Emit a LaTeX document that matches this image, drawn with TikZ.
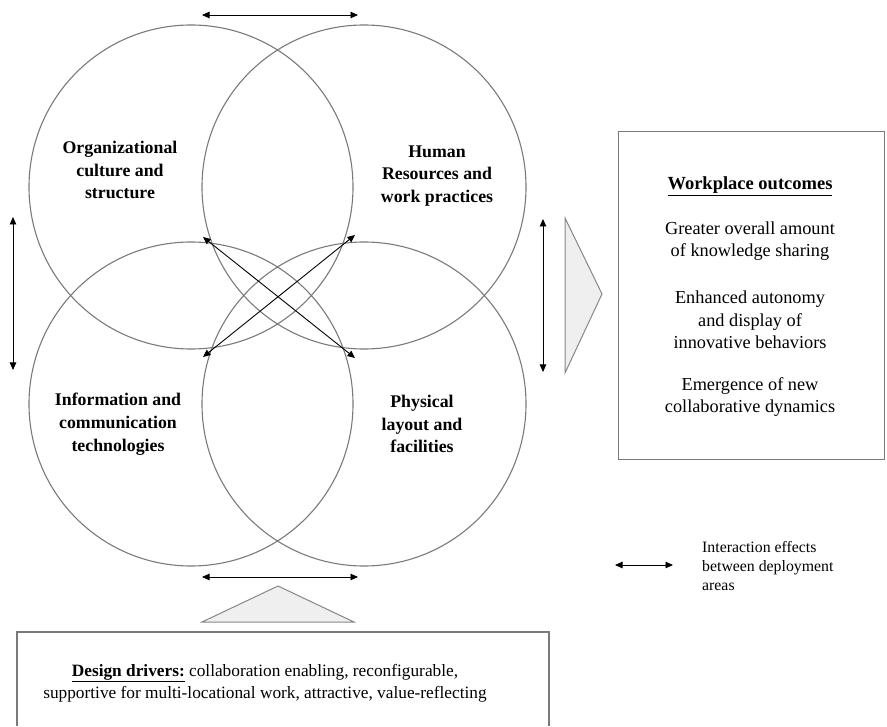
\documentclass[tikz,border=0pt]{standalone}
\usepackage{fontspec}
\setmainfont{Liberation Serif}
\usetikzlibrary{arrows.meta}
\definecolor{cgray}{HTML}{7A7A7A}
\definecolor{tfill}{HTML}{EFEFEF}
\tikzset{
  venn/.style={draw=cgray, line width=1.1pt, circle, minimum size=324pt, inner sep=0pt},
  lbl/.style={align=center, font=\fontsize{17.8}{22.8}\selectfont\bfseries},
  otxt/.style={align=center, font=\fontsize{18.3}{22.5}\selectfont},
  inter/.style={{Triangle[length=7.5pt,width=6.5pt]}-{Triangle[length=7.5pt,width=6.5pt]}, line width=0.9pt, black},
  tri/.style={draw=cgray!90, fill=tfill, line width=1pt},
  boxx/.style={draw=cgray, line width=1.1pt}
}
\begin{document}
\begin{tikzpicture}[x=1pt,y=-1pt]
\useasboundingbox (0,0) rectangle (887,727);
% circles
\node[venn] (c1) at (191,187) {};
\node[venn] (c2) at (364,187) {};
\node[venn] (c3) at (191,404) {};
\node[venn] (c4) at (364,404) {};
% labels
\node[lbl] (l1) at (120,170) {Organizational\\culture and\\structure};
\node[lbl] (l2) at (437,176) {Human\\Resources and\\work practices};
\node[lbl] (l3) at (118,424) {Information and\\communication\\technologies};
\node[lbl] (l4) at (422,424) {Physical\\layout and\\facilities};
% interaction arrow endpoints
\coordinate (t1) at (202,15); \coordinate (t2) at (358,15);
\coordinate (b1) at (202,577); \coordinate (b2) at (358,577);
\coordinate (v1) at (13,217); \coordinate (v2) at (13,370);
\coordinate (r1) at (543,219); \coordinate (r2) at (543,372);
\coordinate (d1) at (203,237); \coordinate (d2) at (355,358);
\coordinate (e1) at (355,235); \coordinate (e2) at (203,357);
\draw[inter] (t1) -- (t2);
\draw[inter] (b1) -- (b2);
\draw[inter] (v1) -- (v2);
\draw[inter] (r1) -- (r2);
\draw[inter] (d1) -- (d2);
\draw[inter] (e1) -- (e2);
% right triangle
\coordinate (rt1) at (565,218); \coordinate (rt2) at (602,294); \coordinate (rt3) at (565,373);
\draw[tri] (rt1) -- (rt2) -- (rt3) -- cycle;
% bottom triangle
\coordinate (bt1) at (202,622); \coordinate (bt2) at (278,586); \coordinate (bt3) at (354,622);
\draw[tri] (bt1) -- (bt2) -- (bt3) -- cycle;
% right box
\node[boxx, minimum width=266pt, minimum height=328pt, inner sep=0pt] (ob) at (751.5,295.5) {};
\node[otxt, font=\fontsize{18.5}{22.5}\selectfont\bfseries] (oh) at (750,186) {\underline{Workplace outcomes}};
\node[otxt] (o1) at (750,241) {Greater overall amount\\of knowledge sharing};
\node[otxt] (o2) at (750,320) {Enhanced autonomy\\and display of\\innovative behaviors};
\node[otxt] (o3) at (750,397) {Emergence of new\\collaborative dynamics};
% bottom box
\draw[boxx] (17,726) |- (549,632) -- (549,726);
\node[otxt, font=\fontsize{17.3}{22}\selectfont] (dd) at (265,683) {\textbf{\underline{Design drivers:}} collaboration enabling, reconfigurable,\\supportive for multi-locational work, attractive, value-reflecting};
% legend
\coordinate (g1) at (615,565); \coordinate (g2) at (673,565);
\draw[inter] (g1) -- (g2);
\node[anchor=west, align=left, font=\fontsize{15.8}{19}\selectfont, inner sep=0pt] (gt) at (702,566) {Interaction effects\\between deployment\\areas};
\end{tikzpicture}
\end{document}
